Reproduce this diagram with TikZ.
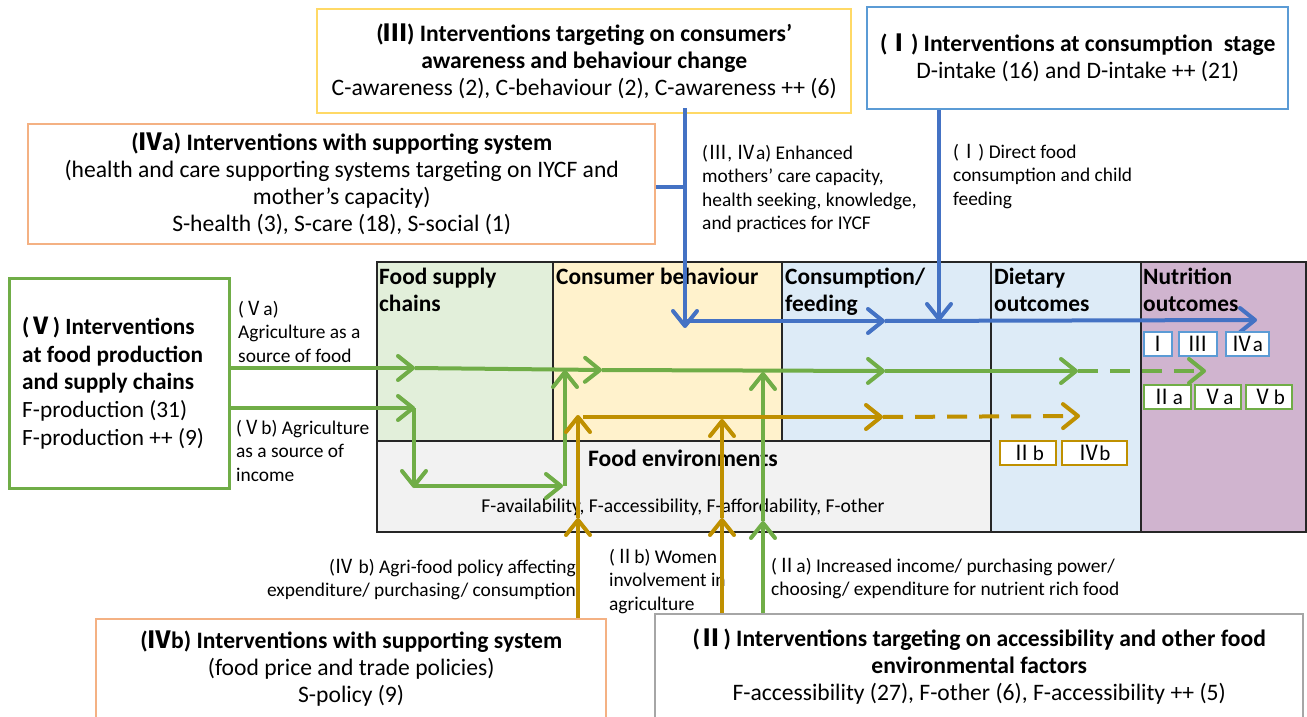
\documentclass[tikz,border=0pt]{standalone}
\usepackage{fontspec}
\setmainfont{Carlito}
\newfontfamily\cjk{Noto Sans CJK SC}
\usetikzlibrary{arrows.meta}
\newcommand\rnI{{\cjk Ⅰ}}
\newcommand\rnII{{\cjk Ⅱ}}
\newcommand\rnIII{{\cjk Ⅲ}}
\newcommand\rnIV{{\cjk Ⅳ}}
\newcommand\rnV{{\cjk Ⅴ}}
\definecolor{cblue}{HTML}{4472C4}
\definecolor{cgreen}{HTML}{70AD47}
\definecolor{cgold}{HTML}{BF9000}
\definecolor{byellow}{HTML}{FFD966}
\definecolor{bblue}{HTML}{5B9BD5}
\definecolor{borange}{HTML}{F4B183}
\definecolor{bgray}{HTML}{A6A6A6}
\definecolor{fgreen}{HTML}{E2EFDA}
\definecolor{fyellow}{HTML}{FFF2CC}
\definecolor{fblue}{HTML}{DDEBF7}
\definecolor{fgray}{HTML}{F2F2F2}
\definecolor{fpurple}{HTML}{D0B4CF}
\begin{document}
\begin{tikzpicture}[x=1pt,y=-1pt,
  boxtxt/.style={font=\fontsize{23.6}{27}\selectfont},
  ibox/.style={draw, line width=2.4pt, fill=white, inner sep=0pt, anchor=north west, align=center, boxtxt},
  cell/.style={draw=black!85, line width=2pt, inner sep=0pt, anchor=north west},
  head/.style={font=\fontsize{23.4}{27}\selectfont\bfseries, align=left, inner sep=0pt, anchor=north west},
  lbl/.style={font=\fontsize{19.4}{23.5}\selectfont, align=left, inner sep=0pt, anchor=north west},
  tag/.style={draw, line width=2pt, fill=white, inner sep=0pt, minimum height=24pt, anchor=north west, font=\fontsize{21}{21}\selectfont},
  chev/.tip={Straight Barb[length=15pt,width=24pt,round]},
  flow/.style={line width=4pt, -chev},
  blu/.style={flow, draw=cblue},
  grn/.style={flow, draw=cgreen},
  gld/.style={flow, draw=cgold},
  dsh/.style={dash pattern=on 20pt off 12pt}
]
\useasboundingbox (0,0) rectangle (1307,717);

% ---- central framework ----
\node[cell, fill=fgreen, minimum width=176pt, minimum height=179pt] (fsc) at (376,261) {};
\node[cell, fill=fyellow, minimum width=229pt, minimum height=179pt] (cb) at (552,261) {};
\node[cell, fill=fblue, minimum width=209pt, minimum height=179pt] (cf) at (781,261) {};
\node[cell, fill=fgray, minimum width=614pt, minimum height=91pt] (fe) at (376,440) {};
\node[cell, fill=fblue, minimum width=150pt, minimum height=270pt] (dio) at (990,261) {};
\node[cell, fill=fpurple, minimum width=165pt, minimum height=270pt] (nuo) at (1140,261) {};

\node[head] (hfsc) at (379,268) {Food supply\\chains};
\node[head] (hcb) at (556,268) {Consumer behaviour};
\node[head] (hcf) at (785,268) {Consumption/\\feeding};
\node[head] (hdio) at (994,268) {Dietary\\outcomes};
\node[head] (hnuo) at (1143,268) {Nutrition\\outcomes};
\node[font=\fontsize{23.6}{27}\selectfont\bfseries, inner sep=0pt] (hfe) at (683,458) {Food environments};
\node[font=\fontsize{19.6}{22}\selectfont, inner sep=0pt] (fet) at (683,507) {F-availability, F-accessibility, F-affordability, F-other};

% ---- intervention boxes ----
\node[ibox, draw=byellow, minimum width=534pt, minimum height=104pt] (III) at (316,8)
  {{\bfseries(\rnIII) Interventions targeting on consumers’}\\
   {\bfseries awareness and behaviour change}\\
   C-awareness (2), C-behaviour (2), C-awareness ++ (6)};
\node[ibox, draw=bblue, minimum width=421pt, minimum height=102pt] (I) at (866,6)
  {{\bfseries(\rnI) Interventions at consumption\ \ stage}\\
   D-intake (16) and D-intake ++ (21)};
\node[ibox, draw=borange, minimum width=627pt, minimum height=120pt] (IVa) at (27,123)
  {{\bfseries(\rnIV a) Interventions with supporting system}\\
   (health and care supporting systems targeting on IYCF and\\
   mother’s capacity)\\
   S-health (3), S-care (18), S-social (1)};
\node[ibox, draw=cgreen, line width=2.8pt, minimum width=220pt, minimum height=210pt] (V) at (8,277) {};
\node[font=\fontsize{23.3}{27.8}\selectfont, align=left, inner sep=0pt, anchor=west] (Vt) at (22,383)
  {{\bfseries(\rnV) Interventions}\\
   {\bfseries at food production}\\
   {\bfseries and supply chains}\\
   F-production (31)\\
   F-production ++ (9)};
\node[ibox, draw=borange, minimum width=510pt, minimum height=99pt] (IVb) at (95,618)
  {{\bfseries(\rnIV b) Interventions with supporting system}\\
   (food price and trade policies)\\
   S-policy (9)};
\node[ibox, draw=bgray, minimum width=648pt, minimum height=104pt] (II) at (654,613)
  {{\bfseries(\rnII) Interventions targeting on accessibility and other food}\\
   {\bfseries environmental factors}\\
   F-accessibility (27), F-other (6), F-accessibility ++ (5)};

% ---- pathway labels ----
\node[lbl] (l3) at (702,145) {(\rnIII, \rnIV a) Enhanced\\mothers’ care capacity,\\health seeking, knowledge,\\and practices for IYCF};
\node[lbl] (l1) at (953,144) {(\rnI) Direct food\\consumption and child\\feeding};
\node[lbl] (l5a) at (238,301) {(\rnV a)\\Agriculture as a\\source of food};
\node[lbl] (l5b) at (236,420) {(\rnV b) Agriculture\\as a source of\\income};
\node[lbl, anchor=north east, align=right] (l4b) at (576,559) {(\rnIV\ b) Agri-food policy affecting\\expenditure/ purchasing/ consumption};
\node[lbl] (l2b) at (609,549) {(\rnII b) Women\\involvement in\\agriculture};
\node[lbl] (l2a) at (771,558) {(\rnII a) Increased income/ purchasing power/\\choosing/ expenditure for nutrient rich food};

% ---- blue pathway ----
\coordinate (bJ) at (685,187);
\coordinate (bD) at (685,328);
\coordinate (bH0) at (683,321);
\coordinate (bH1) at (885,321);
\coordinate (bH2) at (1257,320);
\coordinate (bI) at (939,321);
\draw[line width=4pt, cblue] (bJ -| IVa.east) -- (bJ);
\draw[blu] ([yshift=6pt]III.south -| bJ) -- (bD);
\draw[blu] (bH0) -- (bH1);
\draw[blu] (bH1) -- (bH2);
\draw[blu] (I.south -| bI) -- (bI);

% ---- green pathway ----
\coordinate (gA1) at (415,368);
\coordinate (gA2) at (602,370);
\coordinate (gA3) at (885,371);
\coordinate (gA4) at (1078,371);
\coordinate (gA5) at (1206,371);
\draw[grn] (gA1 -| V.east) -- (gA1);
\draw[grn] (gA1) -- (gA2);
\draw[grn] (gA2) -- (gA3);
\draw[grn] (gA3) -- (gA4);
\draw[grn, dsh] (gA4) -- (gA5);
\coordinate (gB1) at (415,408);
\coordinate (gB2) at (414,488);
\coordinate (gB3) at (563,486);
\coordinate (gB4) at (565,370);
\draw[grn] (gB1 -| V.east) -- (gB1);
\draw[grn] (414,408) -- (gB2);
\draw[grn] (414,486) -- (gB3);
\draw[grn] (gB3 -| gB4) -- (gB4);
\coordinate (gC1) at (763,521);
\coordinate (gC2) at (763,372);
\draw[grn] (II.north -| gC1) -- (gC1);
\draw[grn] (gC1) -- (gC2);

% ---- gold pathway ----
\coordinate (oA1) at (578,518);
\coordinate (oA2) at (578,415);
\coordinate (oB1) at (722,518);
\coordinate (oB2) at (722,419);
\coordinate (oH0) at (583,417);
\coordinate (oH1) at (883,417);
\coordinate (oH2) at (1080,416);
\draw[gld] (IVb.north -| oA1) -- (oA1);
\draw[gld] (oA1) -- (oA2);
\draw[gld] (II.north -| oB1) -- (oB1);
\draw[gld] (oB1) -- (oB2);
\draw[gld] (oH0) -- (oH1);
\draw[gld, dsh] (oH1) -- (oH2);

% ---- outcome tags ----
\node[tag, draw=bblue, minimum width=28pt] (tI) at (1143,331) {\rnI};
\node[tag, draw=bblue, minimum width=38pt] (tIII) at (1178,331) {\rnIII};
\node[tag, draw=bblue, minimum width=43pt] (tIVa) at (1225,331) {\rnIV a};
\node[tag, draw=cgreen, minimum width=47pt] (tIIa) at (1143,384) {\rnII a};
\node[tag, draw=cgreen, minimum width=46pt] (tVa) at (1194,384) {\rnV a};
\node[tag, draw=cgreen, minimum width=46pt] (tVb) at (1245,384) {\rnV b};
\node[tag, draw=cgold, minimum width=56pt] (tIIb) at (999,440) {\rnII b};
\node[tag, draw=cgold, minimum width=65pt] (tIVb) at (1061,440) {\rnIV b};
\end{tikzpicture}
\end{document}
